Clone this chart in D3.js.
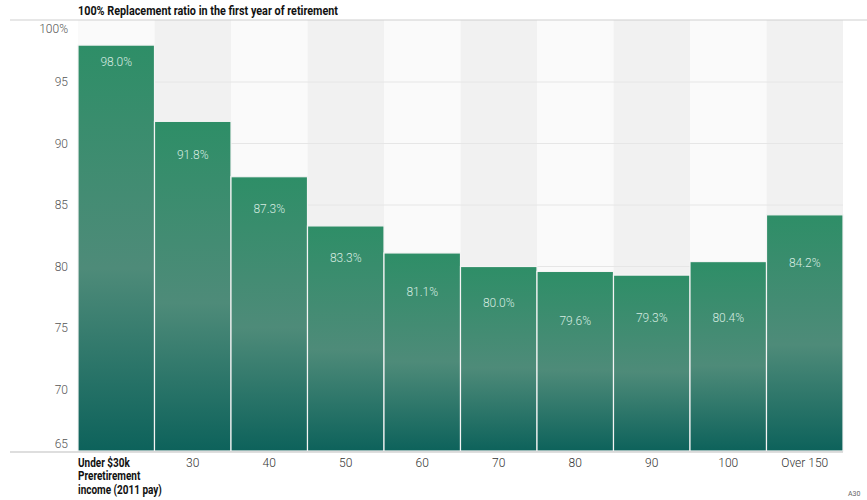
<!DOCTYPE html>
<html>
<head>
<meta charset="utf-8">
<script src="https://cdn.jsdelivr.net/npm/d3@7"></script>
<style>
  body { margin: 0; background: #fff; }
  svg text { font-family: "Roboto", sans-serif; }
</style>
</head>
<body>
<svg id="chart" width="867" height="500"></svg>
<script>
// replacement ratio by preretirement income
const categories = ["Under $30k", "30", "40", "50", "60", "70", "80", "90", "100", "Over 150"]
const ratios = [98.0, 91.8, 87.3, 83.3, 81.1, 80.0, 79.6, 79.3, 80.4, 84.2]
const yTicks = [65, 70, 75, 80, 85, 90, 95, 100]
const firstLabel = ["Under $30k", "Preretirement", "income (2011 pay)"]

// label drop inside each bar (px), as in the original layout
const labelOffset = [17, 33, 32, 32, 39, 36, 49, 43, 56, 48]

const svg = d3.select("#chart")
const plotLeft = 78, plotRight = 843, plotTop = 20, plotBottom = 451

const x = d3.scaleBand().domain(categories).range([plotLeft, plotRight]).padding(0)
const y = d3.scaleLinear().domain([65, 100]).range([plotBottom, plotTop + 0.5])

// gradient for the bars
const grad = svg.append("defs").append("linearGradient")
    .attr("id", "barGrad").attr("x1", 0).attr("y1", 0).attr("x2", 0).attr("y2", 1)
grad.append("stop").attr("offset", "0%").attr("stop-color", "#2e8e67")
grad.append("stop").attr("offset", "55%").attr("stop-color", "#4e8b79")
grad.append("stop").attr("offset", "100%").attr("stop-color", "#0d625b")

// alternating background columns
svg.append("g").selectAll("rect")
    .data(categories)
    .enter().append("rect")
    .attr("x", d => x(d))
    .attr("y", plotTop)
    .attr("width", x.bandwidth())
    .attr("height", plotBottom - plotTop)
    .attr("fill", (d, i) => i % 2 ? "#f1f1f1" : "#fafafa")

// grid lines
svg.append("g").selectAll("line")
    .data(yTicks.filter(t => t > 65 && t < 100))
    .enter().append("line")
    .attr("x1", plotLeft).attr("x2", plotRight)
    .attr("y1", d => y(d)).attr("y2", d => y(d))
    .attr("stroke", "#e6e6e6").attr("stroke-width", 1)

// y labels
svg.append("g").selectAll("text")
    .data(yTicks)
    .enter().append("text")
    .attr("x", 68)
    .attr("y", d => d === 100 ? y(d) + 8 : d === 65 ? y(d) - 7 : y(d))
    .attr("dy", "0.35em")
    .attr("text-anchor", "end")
    .attr("font-size", 12)
    .attr("font-weight", 300)
    .attr("fill", "#555")
    .text(d => d === 100 ? "100%" : d)

// bars
svg.append("g").selectAll("rect")
    .data(ratios)
    .enter().append("rect")
    .attr("x", (d, i) => x(categories[i]))
    .attr("y", d => y(d))
    .attr("width", x.bandwidth())
    .attr("height", d => plotBottom - y(d))
    .attr("fill", "url(#barGrad)")
    .attr("stroke", "#f4f4f4")
    .attr("stroke-width", 1.2)

// value labels
svg.append("g").selectAll("text")
    .data(ratios)
    .enter().append("text")
    .attr("x", (d, i) => x(categories[i]) + x.bandwidth() / 2)
    .attr("y", (d, i) => y(d) + labelOffset[i])
    .attr("dy", "0.35em")
    .attr("text-anchor", "middle")
    .attr("font-size", 12)
    .attr("font-weight", 300)
    .attr("fill", "#d6ebe0")
    .text(d => d.toFixed(1) + "%")

// top and bottom rules
svg.append("line").attr("x1", 10).attr("x2", 867).attr("y1", plotTop).attr("y2", plotTop)
    .attr("stroke", "#cfcfcf")
svg.append("line").attr("x1", 10).attr("x2", plotRight).attr("y1", plotBottom + 1).attr("y2", plotBottom + 1)
    .attr("stroke", "#bdbdbd")

// title
svg.append("text")
    .attr("x", plotLeft).attr("y", 15)
    .attr("font-size", 12).attr("font-weight", "bold").attr("fill", "#111")
    .attr("textLength", 260).attr("lengthAdjust", "spacingAndGlyphs")
    .text("100% Replacement ratio in the first year of retirement")

// x labels
svg.append("g").selectAll("text")
    .data(categories.slice(1))
    .enter().append("text")
    .attr("x", d => x(d) + x.bandwidth() / 2)
    .attr("y", 467)
    .attr("text-anchor", "middle")
    .attr("font-size", 12)
    .attr("font-weight", 300)
    .attr("fill", "#333")
    .text(d => d)

svg.append("g")
    .attr("transform", `translate(${plotLeft},0) scale(0.8,1)`)
    .append("text")
    .attr("x", 0).attr("y", 467)
    .attr("font-size", 12.5).attr("font-weight", "bold").attr("fill", "#111")
    .selectAll("tspan")
    .data(firstLabel)
    .enter().append("tspan")
    .attr("x", 0)
    .attr("dy", (d, i) => i ? 13.5 : 0)
    .text(d => d)

svg.append("text")
    .attr("x", 848).attr("y", 496)
    .attr("font-size", 7).attr("fill", "#666")
    .text("A30")
</script>
</body>
</html>
